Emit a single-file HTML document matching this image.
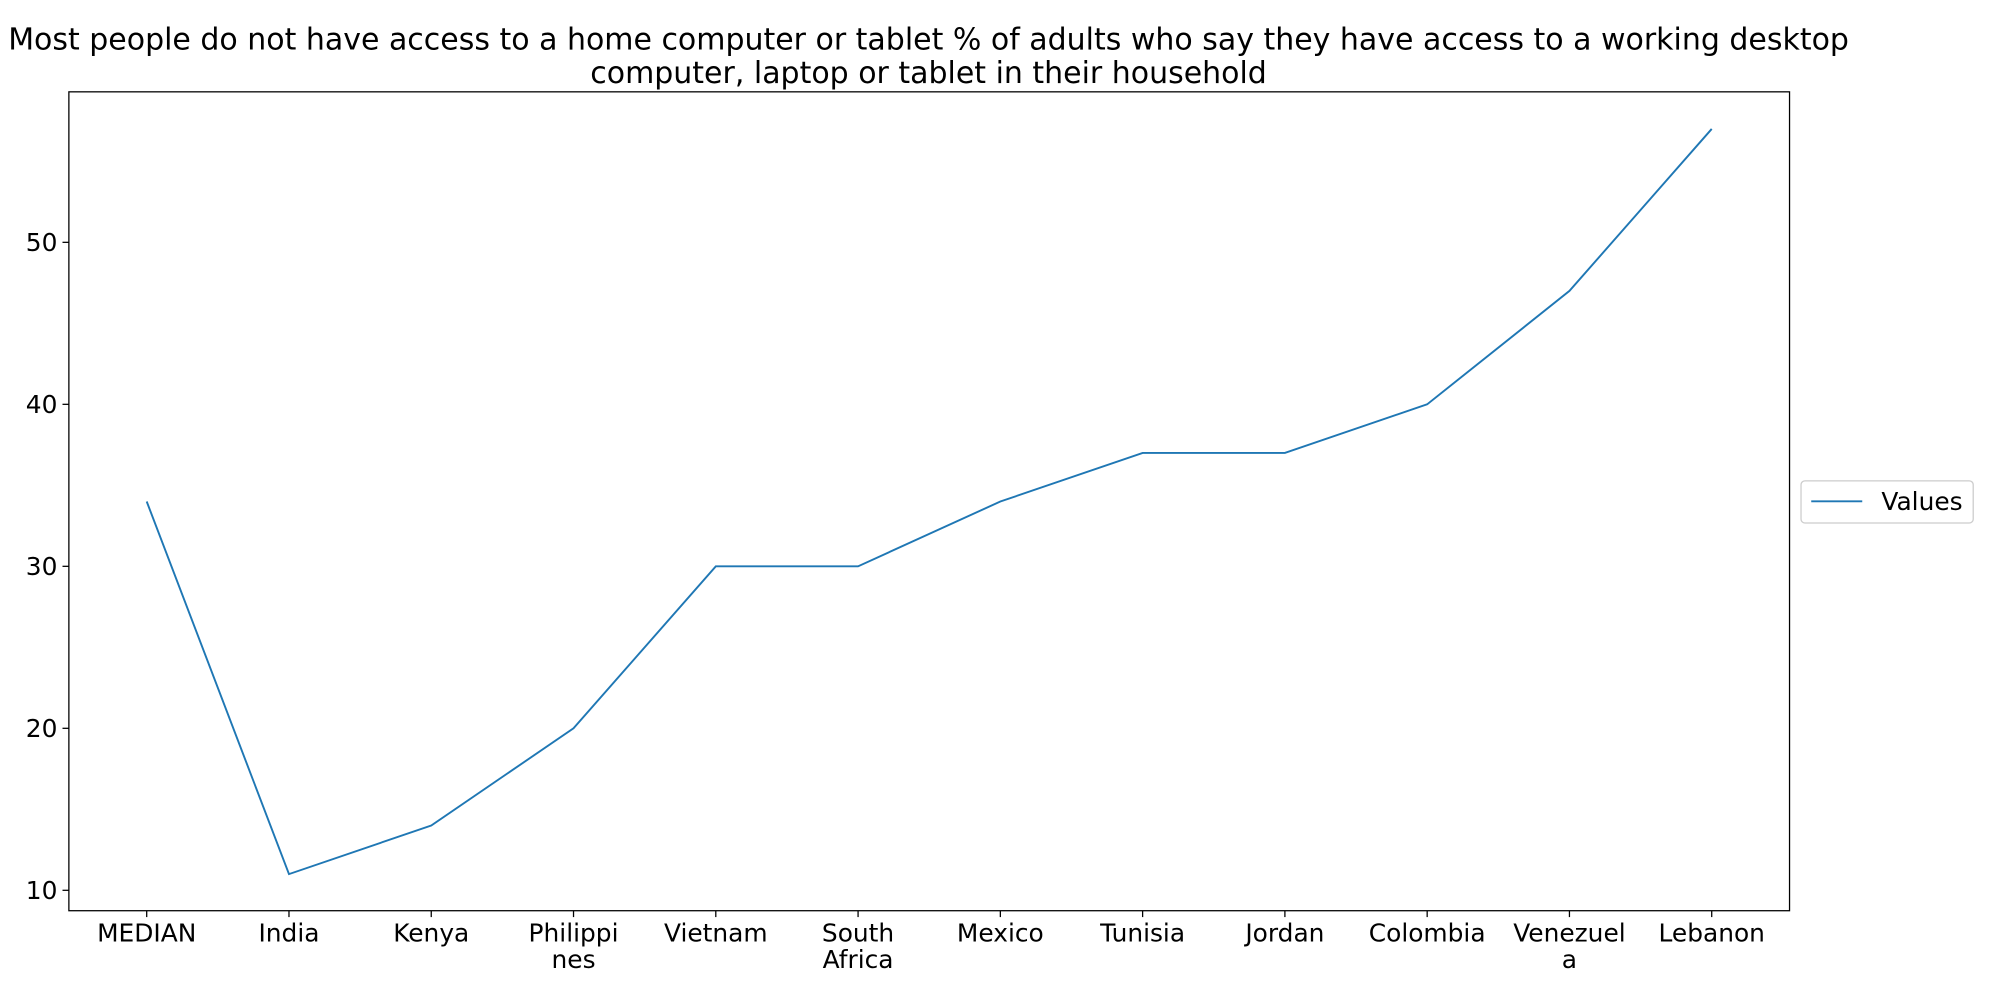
<!DOCTYPE html>
<html><head><meta charset="utf-8"><style>
html,body{margin:0;padding:0;background:#fff;}
svg{display:block;font-family:"DejaVu Sans","Liberation Sans",sans-serif;}
</style></head><body>
<svg id="chart" width="2000" height="1000" viewBox="0 0 1568 784" xmlns="http://www.w3.org/2000/svg">
<text x="728" y="39" font-size="23.5" text-anchor="middle">Most people do not have access to a home computer or tablet % of adults who say they have access to a working desktop</text>
<text x="728" y="65" font-size="23.5" text-anchor="middle">computer, laptop or tablet in their household</text>
<g id="axes"></g>
<rect x="54" y="72" width="1349" height="642" fill="none" stroke="#000" stroke-width="1"/>
<g>
<rect x="1412" y="377" width="135" height="33" rx="3" fill="#fff" stroke="#ccc"/>
<line x1="1420" y1="393" x2="1460" y2="393" stroke="#1f77b4" stroke-width="1.5"/>
<text x="1475" y="400" font-size="19.5">Values</text>
</g>
</svg>
<script>
const categories=[["MEDIAN"],["India"],["Kenya"],["Philippi","nes"],["Vietnam"],["South","Africa"],["Mexico"],["Tunisia"],["Jordan"],["Colombia"],["Venezuel","a"],["Lebanon"]];
const values=[34,11,14,20,30,30,34,37,37,40,47,57];
const yTicks=[10,20,30,40,50];
const NS="http://www.w3.org/2000/svg";
const L=54,R=1403,T=72,B=714;
const xMin=-0.547,xMax=categories.length-1+0.547;
const yMin=8.74,yMax=59.29;
const xs=i=>L+(i-xMin)/(xMax-xMin)*(R-L);
const ys=v=>B-(v-yMin)/(yMax-yMin)*(B-T);
const g=document.getElementById('axes');
function mk(t,a){const e=document.createElementNS(NS,t);for(const k in a)e.setAttribute(k,a[k]);g.appendChild(e);return e;}
yTicks.forEach(v=>{
 const y=ys(v);
 const tk=mk('line',{x1:L-5,x2:L,y1:y,y2:y,stroke:'#000'});
 
 
 const t=mk('text',{x:L-9,y:y+7,'font-size':19.5,'text-anchor':'end'});
 t.textContent=v;
 
 
});
categories.forEach((c,i)=>{
 const x=xs(i);
 const tk=mk('line',{x1:x,x2:x,y1:B,y2:B+5,stroke:'#000'});
 
 
 c.forEach((ln,j)=>{
  const t=mk('text',{x:x,y:B+24+j*21,'font-size':19.5,'text-anchor':'middle'});
  t.textContent=ln;
  
  
 });
});
const pts=values.map((v,i)=>xs(i)+','+ys(v)).join(' ');
const line=mk('polyline',{points:pts,fill:'none',stroke:'#1f77b4','stroke-width':1.5});


</script>
</body></html>
